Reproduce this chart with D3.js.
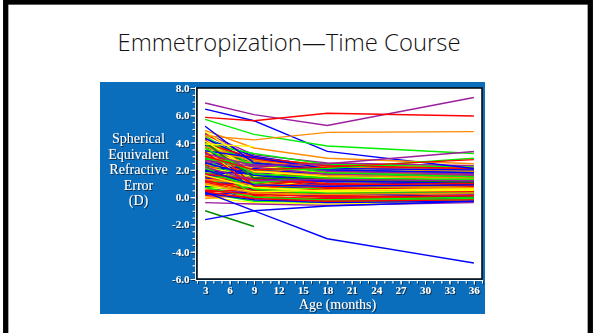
<!DOCTYPE html>
<html>
<head>
<meta charset="utf-8">
<script src="https://cdn.jsdelivr.net/npm/d3@7"></script>
<style>
  body { margin: 0; background: #fff; }
  svg { display: block; }
</style>
</head>
<body>
<svg id="chart" width="595" height="333"></svg>
<script>
// ages at which refraction was measured
const ages = [3, 9, 18, 36]
const xTicks = [3, 6, 9, 12, 15, 18, 21, 24, 27, 30, 33, 36]
const yTicks = [-6, -4, -2, 0, 2, 4, 6, 8]

// spherical equivalent (D) per child, one array per visit
// first 14 are the stragglers, then the main bundle
const se3 = [6.9, 6.45, 5.85, 5.7, 4.5, 4.9, 5.2, 3.9, -1.0, 0.37, -1.65, 3.2, 2.9, 3.0,
  4.6, 4.4, 4.3, 4.2, 4.1, 4.0, 3.9, 3.9, 3.8, 3.7,
  3.7, 3.6, 3.6, 3.5, 3.5, 3.4, 3.4, 3.3, 3.3, 3.2,
  3.2, 3.1, 3.1, 3.0, 3.0, 2.9, 2.9, 2.8, 2.8, 2.7,
  2.7, 2.6, 2.6, 2.5, 2.5, 2.4, 2.4, 2.3, 2.3, 2.2,
  2.2, 2.1, 2.1, 2.0, 2.0, 1.9, 1.9, 1.8, 1.8, 1.7,
  1.7, 1.6, 1.6, 1.5, 1.5, 1.4, 1.4, 1.3, 1.3, 1.2,
  1.2, 1.1, 1.1, 1.0, 1.0, 0.9, 0.9, 0.8, 0.8, 0.7,
  0.6, 0.6, 0.5, 0.4, 0.3, 0.2, 0.1, 0.0, -0.1, -0.4,
  4.5, 4.0, 3.8, 3.6, 3.4, 3.2, 3.0, 2.8, 2.6, 2.4,
  2.2, 2.0, 1.8, 1.5, 1.2, 4.7, 4.8, 4.4, 3.9, 4.2,
  4.3, 3.9, 3.5, 3.1, 2.7, 2.3, 1.9, 1.5, 1.1, 0.7,
  0.3, 4.1, 3.7, 3.3, 2.9, 2.5, 2.1, 1.7, 1.3, 0.9,
  0.5, 4.0, 3.4, 2.8, 2.2, 1.6, 1.0, 0.4, 3.6, 2.0]
const se9 = [6.05, 5.6, 5.6, 4.6, 4.2, 3.6, 2.5, 3.7, -2.15, -1.0, -1.0, 2.3, 2.0, 2.0,
  2.9, 2.1, 3.0, 1.5, 2.6, 1.0, 2.4, 1.8, 2.7, 1.2,
  2.2, 0.6, 1.9, 2.5, 1.4, 2.0, 0.9, 1.6, 2.8, 1.1,
  0.3, 1.7, 2.3, 1.3, 0.7, 2.1, 1.5, 0.2, 1.8, 1.0,
  2.6, 1.2, 0.5, 1.9, 1.4, 0.8, 2.2, 1.1, 1.6, 0.4,
  2.0, 1.3, 0.9, 1.7, 0.6, 1.2, 2.4, 0.1, 1.5, 0.8,
  1.9, 0.5, 1.3, 1.0, 0.3, 1.6, 0.7, 1.1, 0.0, 1.4,
  0.6, 0.9, 1.2, 0.4, 0.8, 0.2, 1.0, 0.5, -0.2, 0.7,
  0.3, 0.9, 0.1, 0.6, -0.3, 0.4, 0.0, -0.4, 0.2, -0.5,
  2.2, 2.8, 0.4, 2.1, 1.3, 2.0, 0.0, 1.4, 2.3, 0.1,
  1.5, 2.7, 1.0, 2.1, 0.5, 3.1, 2.5, 1.8, 3.2, 0.8,
  2.6, 2.9, 0.7, 1.9, 2.4, 0.2, 1.7, 0.9, 0.3, 0.0,
  -0.2, 1.9, 2.6, 0.8, 2.2, 1.6, 0.6, 1.3, 0.9, 0.4,
  0.2, 1.4, 2.9, 2.5, 1.2, 0.7, 0.3, -0.1, 1.7, 0.9]
const se18 = [5.25, 3.35, 6.15, 3.75, 4.75, 2.85, 2.0, null, null, -3.05, -0.65, 2.45, 2.1, 2.2,
  2.3, 1.6, 2.2, 1.2, 1.9, 0.8, 2.0, 1.4, 2.3, 0.9,
  1.7, 0.4, 1.5, 2.1, 1.0, 1.8, 0.6, 1.3, 2.4, 1.2,
  0.2, 1.1, 1.9, 0.7, 0.9, 1.6, 1.4, 0.1, 2.0, 0.5,
  2.2, 1.0, 0.3, 1.3, 1.6, 0.6, 1.8, 0.8, 1.1, 0.0,
  1.7, 1.2, 0.4, 1.5, 0.7, 0.9, 2.0, -0.2, 1.3, 1.0,
  1.4, 0.3, 0.8, 1.1, 0.5, 1.2, 0.2, 0.6, -0.1, 1.5,
  0.8, 0.5, 1.0, 0.1, 0.9, 0.4, 0.7, 0.2, -0.3, 0.6,
  0.0, 1.1, -0.2, 0.3, -0.4, 0.5, -0.1, -0.5, 0.2, -0.6,
  1.7, 2.1, 0.3, 2.4, 1.9, 1.2, -0.3, 0.9, 2.3, 0.6,
  2.1, 1.9, 1.7, 1.6, 1.3, 2.5, 2.0, 2.2, 2.4, 1.4,
  2.0, 2.3, 0.5, 1.6, 1.9, 0.4, 1.2, 0.7, 0.6, -0.2,
  -0.4, 1.5, 2.2, 0.9, 1.7, 1.1, 0.3, 1.0, 0.8, 0.5,
  0.0, 1.3, 2.1, 1.8, 1.3, 0.4, 0.2, -0.3, 1.4, 0.8]
const se36 = [7.3, 2.1, 5.95, 3.2, 4.8, 2.45, 1.8, null, null, -4.83, -0.3, 3.35, 2.85, 2.75,
  2.1, 1.4, 1.9, 1.0, 1.7, 0.9, 2.2, 1.1, 2.0, 0.6,
  1.5, 0.5, 1.3, 1.8, 0.8, 2.0, 0.4, 1.2, 2.3, 1.0,
  0.3, 0.9, 1.6, 0.6, 1.1, 1.4, 1.5, -0.1, 1.7, 0.7,
  2.1, 1.2, 0.2, 1.0, 1.8, 0.8, 1.3, 0.5, 1.3, 0.1,
  1.9, 0.9, 0.6, 1.6, 0.4, 1.0, 1.7, 0.0, 1.4, 0.7,
  1.2, 0.4, 0.9, 1.3, 0.2, 1.0, 0.5, 0.8, 0.1, 1.1,
  0.6, 0.3, 0.8, 0.3, 1.2, 0.2, 0.5, 0.4, -0.1, 0.9,
  0.2, 0.8, -0.2, 0.5, -0.2, 0.3, 0.0, -0.3, 0.1, -0.4,
  1.5, 1.9, 0.0, 2.2, 1.6, 1.4, -0.1, 1.1, 2.0, 0.7,
  1.8, 1.5, 1.9, 1.3, 1.5, 2.3, 1.8, 2.0, 2.2, 1.0,
  1.8, 2.1, 0.6, 1.4, 1.7, 0.5, 1.0, 0.9, 0.4, 0.0,
  -0.3, 1.3, 1.9, 1.0, 1.6, 1.2, 0.3, 0.8, 0.7, 0.6,
  0.1, 1.1, 2.0, 1.5, 1.2, 0.5, 0.3, -0.2, 1.3, 0.9]

// line colour per child (stragglers first, then a repeating run)
const straggleKeys = "pbrgoobydbbpgr"
const bundleKeys = "rgbyorpbgroyrdbgpyorgbryopgrbyorgbpryogbrpyogrbryopgbr"
const palette = {r: "#ff0000", g: "#00ee00", b: "#0000ff", y: "#ffff00", o: "#ff8c00", p: "#9c1f9c", d: "#008a00"}

const W = 595, H = 333
const box = {x: 100, y: 82, w: 385, h: 232}
const plot = {left: 197, right: 482, top: 88, bottom: 279}

const svg = d3.select("#chart")

const defs = svg.append("defs")
defs.append("filter").attr("id", "sh")
  .attr("x", "-20%").attr("y", "-20%").attr("width", "140%").attr("height", "140%")
  .append("feDropShadow")
  .attr("dx", 1).attr("dy", 1).attr("stdDeviation", 0.4)
  .attr("flood-color", "#10223a").attr("flood-opacity", 0.9)
defs.append("clipPath").attr("id", "clip")
  .append("rect")
  .attr("x", plot.left).attr("y", plot.top)
  .attr("width", plot.right - plot.left).attr("height", plot.bottom - plot.top)

svg.append("rect").attr("width", W).attr("height", H).attr("fill", "#fff")

// slide border
svg.append("rect")
  .attr("x", 5.7).attr("y", 2).attr("width", 584.6).attr("height", 400)
  .attr("fill", "none").attr("stroke", "#000").attr("stroke-width", 5.3)

svg.append("text")
  .attr("x", 289).attr("y", 51)
  .attr("text-anchor", "middle")
  .attr("font-family", "Open Sans")
  .attr("font-weight", 300)
  .attr("font-size", 24.5)
  .attr("textLength", 343)
  .attr("lengthAdjust", "spacingAndGlyphs")
  .attr("fill", "#111")
  .text("Emmetropization—Time Course")

svg.append("rect")
  .attr("x", box.x).attr("y", box.y).attr("width", box.w).attr("height", box.h)
  .attr("fill", "#0a6ebd")

var x = d3.scaleLinear().domain([2, 37]).range([plot.left, plot.right])
var y = d3.scaleLinear().domain([-6, 8]).range([plot.bottom, plot.top])

svg.append("rect")
  .attr("x", plot.left).attr("y", plot.top)
  .attr("width", plot.right - plot.left).attr("height", plot.bottom - plot.top)
  .attr("fill", "#fff").attr("stroke", "#000").attr("stroke-width", 1.5)

var children = se3.map((v, i) => ({
  key: i < straggleKeys.length ? straggleKeys[i] : bundleKeys[(i - straggleKeys.length) % bundleKeys.length],
  pts: [se3[i], se9[i], se18[i], se36[i]]
}))

var line = d3.line()
  .defined(d => d[1] != null)
  .x(d => x(d[0]))
  .y(d => y(d[1]))

// bundle first, stragglers on top
var order = children.slice(straggleKeys.length).concat(children.slice(0, straggleKeys.length))

svg.append("g").attr("clip-path", "url(#clip)")
  .selectAll("path")
  .data(order)
  .join("path")
  .attr("d", d => line(ages.map((a, j) => [a, d.pts[j]])))
  .attr("fill", "none")
  .attr("stroke", d => palette[d.key])
  .attr("stroke-width", 1.4)

// axes, white on the blue panel
var yAxis = svg.append("g")
  .attr("transform", `translate(${plot.left - 1.5},0)`)
  .attr("filter", "url(#sh)")
yAxis.call(d3.axisLeft(y).tickValues(d3.range(-6, 8.01, 0.5)).tickSize(3).tickFormat(""))
yAxis.append("g").call(d3.axisLeft(y).tickValues(yTicks).tickSize(5).tickPadding(1).tickFormat(d => d.toFixed(1)))

var xAxis = svg.append("g")
  .attr("transform", `translate(0,${plot.bottom + 1.5})`)
  .attr("filter", "url(#sh)")
xAxis.call(d3.axisBottom(x).tickValues(d3.range(2, 37.01, 1)).tickSize(3).tickFormat(""))
xAxis.append("g").call(d3.axisBottom(x).tickValues(xTicks).tickSize(4).tickPadding(1.5))

svg.selectAll(".domain").remove()
svg.selectAll(".tick line").attr("stroke", "#fff")
svg.selectAll(".tick text")
  .attr("fill", "#fff")
  .attr("font-family", "Liberation Serif")
  .attr("font-weight", "bold")
  .attr("font-size", 11)

// white axis lines just outside the frame
svg.append("line")
  .attr("x1", plot.left - 1.5).attr("x2", plot.left - 1.5)
  .attr("y1", plot.top - 1).attr("y2", plot.bottom + 1.5)
  .attr("stroke", "#fff")
svg.append("line")
  .attr("x1", plot.left - 1.5).attr("x2", plot.right + 1)
  .attr("y1", plot.bottom + 1.5).attr("y2", plot.bottom + 1.5)
  .attr("stroke", "#fff")

svg.append("text")
  .attr("x", 337.5).attr("y", 308.5)
  .attr("text-anchor", "middle")
  .attr("font-family", "Liberation Serif")
  .attr("font-size", 14)
  .attr("fill", "#fff")
  .attr("filter", "url(#sh)")
  .text("Age (months)")

var yTitle = ["Spherical", "Equivalent", "Refractive", "Error", "(D)"]
svg.append("g")
  .attr("filter", "url(#sh)")
  .selectAll("text")
  .data(yTitle)
  .join("text")
  .attr("x", 138.5)
  .attr("y", (d, i) => 143 + i * 15.5)
  .attr("text-anchor", "middle")
  .attr("font-family", "Liberation Serif")
  .attr("font-size", 14)
  .attr("fill", "#fff")
  .text(d => d)
</script>
</body>
</html>
